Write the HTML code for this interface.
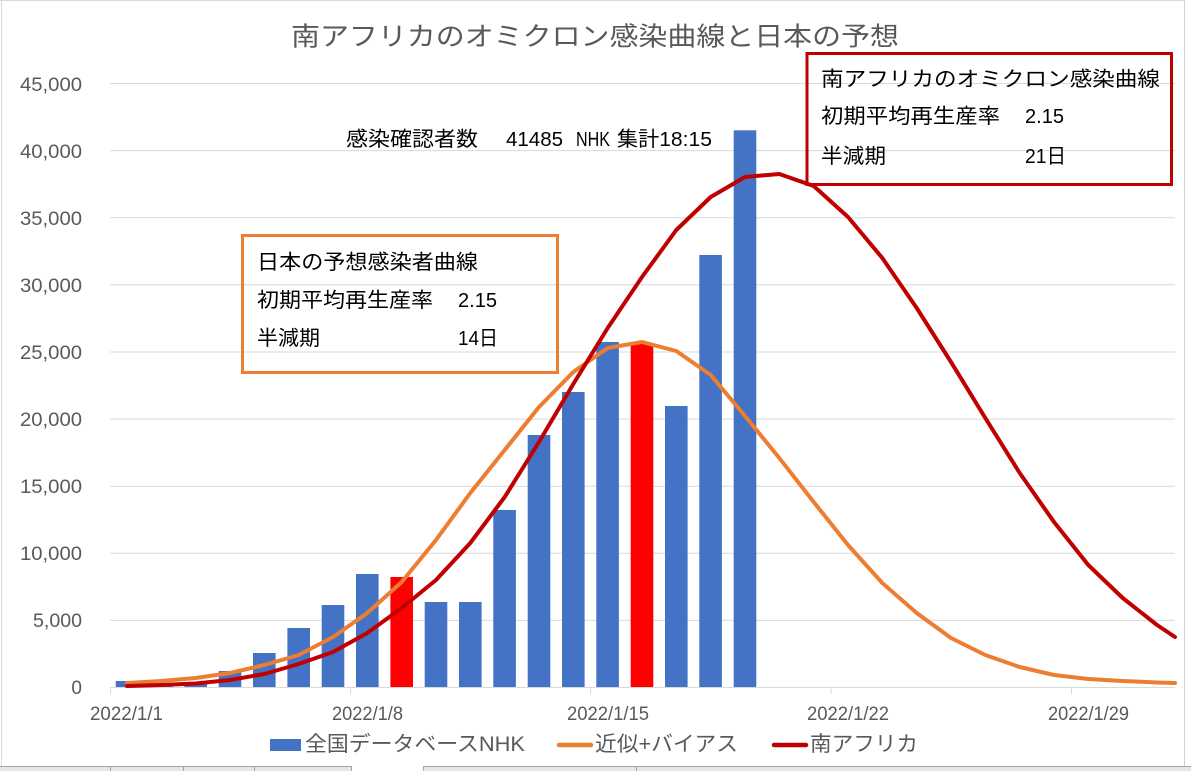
<!DOCTYPE html>
<html><head><meta charset="utf-8">
<style>
html,body{margin:0;padding:0;background:#fff;}
svg{display:block;}
text{font-family:"Liberation Sans","Noto Sans CJK JP",sans-serif;}
</style></head>
<body>
<svg width="1191" height="771" viewBox="0 0 1191 771" xmlns="http://www.w3.org/2000/svg">
<rect x="0" y="0" width="1191" height="771" fill="#fff"/>
<!-- chart border -->
<line x1="1.5" y1="0" x2="1.5" y2="766" stroke="#d9d9d9" stroke-width="1"/>
<line x1="0" y1="0.5" x2="1184" y2="0.5" stroke="#d9d9d9" stroke-width="1"/>
<line x1="1184.5" y1="0" x2="1184.5" y2="766" stroke="#d0d0d0" stroke-width="1"/>
<!-- bottom sheet strip -->
<rect x="0" y="766" width="351" height="5" fill="#e6e6e6"/>
<rect x="424" y="766" width="767" height="5" fill="#e6e6e6"/>
<line x1="0" y1="766.5" x2="351" y2="766.5" stroke="#a6a6a6"/>
<line x1="424" y1="766.5" x2="1191" y2="766.5" stroke="#a6a6a6"/>
<line x1="351.5" y1="766" x2="351.5" y2="771" stroke="#a6a6a6"/>
<line x1="423.5" y1="766" x2="423.5" y2="771" stroke="#a6a6a6"/>
<line x1="110.5" y1="767" x2="110.5" y2="771" stroke="#a6a6a6"/>
<line x1="183.5" y1="767" x2="183.5" y2="771" stroke="#a6a6a6"/>
<line x1="254.5" y1="767" x2="254.5" y2="771" stroke="#a6a6a6"/>
<line x1="636.5" y1="767" x2="636.5" y2="771" stroke="#a6a6a6"/>

<!-- title -->
<text x="291" y="45.5" font-size="26" fill="#595959" textLength="608" lengthAdjust="spacingAndGlyphs">南アフリカのオミクロン感染曲線と日本の予想</text>

<!-- gridlines -->
<g stroke="#d9d9d9" stroke-width="1">
<line x1="110" y1="620.4" x2="1175" y2="620.4"/>
<line x1="110" y1="553.3" x2="1175" y2="553.3"/>
<line x1="110" y1="486.2" x2="1175" y2="486.2"/>
<line x1="110" y1="419.1" x2="1175" y2="419.1"/>
<line x1="110" y1="352.0" x2="1175" y2="352.0"/>
<line x1="110" y1="284.8" x2="1175" y2="284.8"/>
<line x1="110" y1="217.7" x2="1175" y2="217.7"/>
<line x1="110" y1="150.6" x2="1175" y2="150.6"/>
<line x1="110" y1="83.5" x2="1175" y2="83.5"/>
<line x1="110" y1="687.5" x2="1175" y2="687.5"/>
<line x1="110.5" y1="687" x2="110.5" y2="694"/>
<line x1="350.5" y1="687" x2="350.5" y2="694"/>
<line x1="590.5" y1="687" x2="590.5" y2="694"/>
<line x1="831" y1="687" x2="831" y2="694"/>
<line x1="1071.5" y1="687" x2="1071.5" y2="694"/>
</g>

<!-- y labels -->
<g font-size="19" fill="#595959" text-anchor="end">
<text x="82" y="694">0</text>
<text x="82" y="627" textLength="49" lengthAdjust="spacingAndGlyphs">5,000</text>
<text x="82" y="560" textLength="62" lengthAdjust="spacingAndGlyphs">10,000</text>
<text x="82" y="493" textLength="62" lengthAdjust="spacingAndGlyphs">15,000</text>
<text x="82" y="426" textLength="62" lengthAdjust="spacingAndGlyphs">20,000</text>
<text x="82" y="359" textLength="62" lengthAdjust="spacingAndGlyphs">25,000</text>
<text x="82" y="292" textLength="62" lengthAdjust="spacingAndGlyphs">30,000</text>
<text x="82" y="225" textLength="62" lengthAdjust="spacingAndGlyphs">35,000</text>
<text x="82" y="158" textLength="62" lengthAdjust="spacingAndGlyphs">40,000</text>
<text x="82" y="91" textLength="62" lengthAdjust="spacingAndGlyphs">45,000</text>
</g>

<!-- x labels -->
<g font-size="19" fill="#595959">
<text x="90" y="720" textLength="73" lengthAdjust="spacingAndGlyphs">2022/1/1</text>
<text x="332" y="720" textLength="71" lengthAdjust="spacingAndGlyphs">2022/1/8</text>
<text x="567" y="720" textLength="82" lengthAdjust="spacingAndGlyphs">2022/1/15</text>
<text x="807" y="720" textLength="82" lengthAdjust="spacingAndGlyphs">2022/1/22</text>
<text x="1048" y="720" textLength="81" lengthAdjust="spacingAndGlyphs">2022/1/29</text>
</g>

<!-- bars -->
<g fill="#4472c4">
<rect x="115.7" y="681" width="22.6" height="6"/>
<rect x="150.0" y="684" width="22.6" height="3"/>
<rect x="184.4" y="682.5" width="22.6" height="4.5"/>
<rect x="218.7" y="671" width="22.6" height="16"/>
<rect x="253.0" y="653" width="22.6" height="34"/>
<rect x="287.4" y="628" width="22.6" height="59"/>
<rect x="321.7" y="605" width="22.6" height="82"/>
<rect x="356.0" y="574" width="22.6" height="113"/>
<rect x="424.7" y="602" width="22.6" height="85"/>
<rect x="459.0" y="602" width="22.6" height="85"/>
<rect x="493.3" y="510" width="22.6" height="177"/>
<rect x="527.7" y="435" width="22.6" height="252"/>
<rect x="562.0" y="392" width="22.6" height="295"/>
<rect x="596.3" y="342" width="22.6" height="345"/>
<rect x="665.0" y="406" width="22.6" height="281"/>
<rect x="699.3" y="255" width="22.6" height="432"/>
<rect x="733.7" y="130.3" width="22.6" height="556.7"/>
</g>
<g fill="#ff0000">
<rect x="390.4" y="577" width="22.6" height="110"/>
<rect x="630.7" y="344" width="22.6" height="343"/>
</g>

<!-- orange line -->
<polyline fill="none" stroke="#ed7d31" stroke-width="4" stroke-linejoin="round" stroke-linecap="round"
points="127,683 161.3,681 195.7,678 230,673 264.3,665 298.7,655 333,637 367.3,613 401.7,582 436,540 470.3,493 504.7,450 539,407 573.3,372 607.7,348 642,342 676.3,351 710.7,375 745,416 779.3,458 813.7,502 848,545 882.3,583 916.7,613 951,638 985.3,655 1019.7,667 1054,675 1088.3,679 1122.7,681 1157,682.5 1175,683"/>
<!-- dark red line -->
<polyline fill="none" stroke="#c00000" stroke-width="4" stroke-linejoin="round" stroke-linecap="round"
points="127,686 161.3,685 195.7,683.5 230,680 264.3,674 298.7,664 333,652 367.3,633 401.7,608 436,580 470.3,543 504.7,497 539,442 573.3,384 607.7,328 642,277 676.3,230 710.7,197 745,177 779.3,174 813.7,186 848,217 882.3,258 916.7,308 951,362 985.3,418 1019.7,473 1054,522 1088.3,565 1122.7,598 1157,625 1175,637"/>

<!-- annotation text -->
<g font-size="20.5" fill="#000">
<text x="346" y="146" textLength="132" lengthAdjust="spacingAndGlyphs">感染確認者数</text>
<text x="506" y="146" textLength="57" lengthAdjust="spacingAndGlyphs">41485</text>
<text x="576" y="146" textLength="34" lengthAdjust="spacingAndGlyphs">NHK</text>
<text x="617" y="146" textLength="95" lengthAdjust="spacingAndGlyphs">集計18:15</text>
</g>

<!-- orange box -->
<rect x="242.5" y="235.5" width="315" height="137" fill="none" stroke="#ed7d31" stroke-width="3"/>
<g font-size="20.5" fill="#000">
<text x="257" y="269" textLength="221" lengthAdjust="spacingAndGlyphs">日本の予想感染者曲線</text>
<text x="257" y="307" textLength="176" lengthAdjust="spacingAndGlyphs">初期平均再生産率</text>
<text x="458" y="307" textLength="39" lengthAdjust="spacingAndGlyphs">2.15</text>
<text x="257" y="345" textLength="63" lengthAdjust="spacingAndGlyphs">半減期</text>
<text x="458" y="345" textLength="40" lengthAdjust="spacingAndGlyphs">14日</text>
</g>

<!-- red box -->
<rect x="807" y="53.5" width="364.5" height="131" fill="none" stroke="#c00000" stroke-width="3"/>
<g font-size="20.5" fill="#000">
<text x="821" y="86" textLength="339" lengthAdjust="spacingAndGlyphs">南アフリカのオミクロン感染曲線</text>
<text x="821" y="123" textLength="179" lengthAdjust="spacingAndGlyphs">初期平均再生産率</text>
<text x="1025" y="123" textLength="39" lengthAdjust="spacingAndGlyphs">2.15</text>
<text x="821" y="163" textLength="65" lengthAdjust="spacingAndGlyphs">半減期</text>
<text x="1025" y="163" textLength="41" lengthAdjust="spacingAndGlyphs">21日</text>
</g>

<!-- legend -->
<rect x="270" y="739" width="31" height="12" fill="#4472c4"/>
<text x="305" y="751" font-size="21" fill="#595959" textLength="220" lengthAdjust="spacingAndGlyphs">全国データベースNHK</text>
<line x1="559" y1="745" x2="591" y2="745" stroke="#ed7d31" stroke-width="4.5" stroke-linecap="round"/>
<text x="595" y="751" font-size="21" fill="#595959" textLength="143" lengthAdjust="spacingAndGlyphs">近似+バイアス</text>
<line x1="774" y1="745" x2="806" y2="745" stroke="#c00000" stroke-width="4.5" stroke-linecap="round"/>
<text x="810" y="751" font-size="21" fill="#595959" textLength="108" lengthAdjust="spacingAndGlyphs">南アフリカ</text>
</svg>
</body></html>
